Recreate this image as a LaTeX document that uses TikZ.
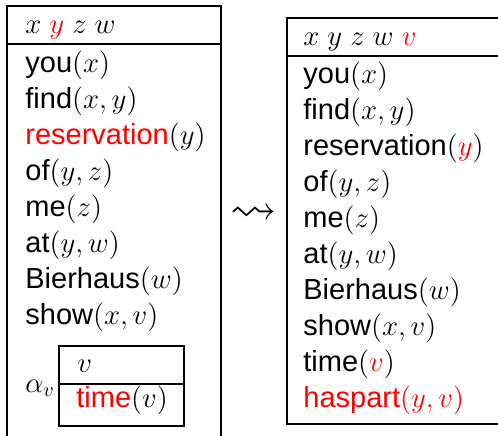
\documentclass[tikz,border=0pt]{standalone}
\usepackage{fontspec}
\setmainfont{Liberation Sans}
\usepackage{amssymb}
\newcommand{\drsfont}{\fontsize{14.5}{18}\selectfont}
\newcommand{\newcond}[1]{\textcolor{red}{#1}}

\begin{document}
\begin{tikzpicture}[x=0.5pt,y=-0.5pt,
  box/.style={draw,line width=0.7pt},
  cond/.style={anchor=base west,inner sep=0pt,font=\drsfont}]
  \clip (0,0) rectangle (498,435);
  % DRS before merging, its frame runs on below the page
  \draw[box] (7,6) rectangle (221,450);
  \draw[box] (7,44) -- (221,44);
  \node[cond] (lref) at (25,33) {$x$ \newcond{$y$} $z$ $w$};
  \foreach \c [count=\i from 0] in {you$(x)$,{find$(x,y)$},\newcond{reservation}$(y)$,{of$(y,z)$},me$(z)$,{at$(y,w)$},Bierhaus$(w)$,{show$(x,v)$}}
    \node[cond] (l\i) at (25,72+36*\i) {\c};
  % embedded alpha-DRS
  \draw[box] (59,346) rectangle (184,426);
  \draw[box] (59,384) -- (184,384);
  \node[cond] (aref) at (77,372) {$v$};
  \node[cond] (acond) at (76,407) {\newcond{time}$(v)$};
  \node[cond] (alpha) at (25,392) {$\alpha_v$};
  % merge step
  \node[inner sep=0pt,font=\drsfont] (merge) at (254,215) {\scalebox{1.6}{$\leadsto$}};
  % DRS after merging
  \draw[box] (287,18) rectangle (520,424);
  \draw[box] (287,56) -- (520,56);
  \node[cond] (rref) at (303,45) {$x$ $y$ $z$ $w$ \newcond{$v$}};
  \foreach \c [count=\i from 0] in {you$(x)$,{find$(x,y)$},reservation$(\newcond{y})$,{of$(y,z)$},me$(z)$,{at$(y,w)$},Bierhaus$(w)$,{show$(x,v)$},time$(\newcond{v})$,{\newcond{haspart$(y,v)$}}}
    \node[cond] (r\i) at (303,83+36*\i) {\c};
\end{tikzpicture}
\end{document}
